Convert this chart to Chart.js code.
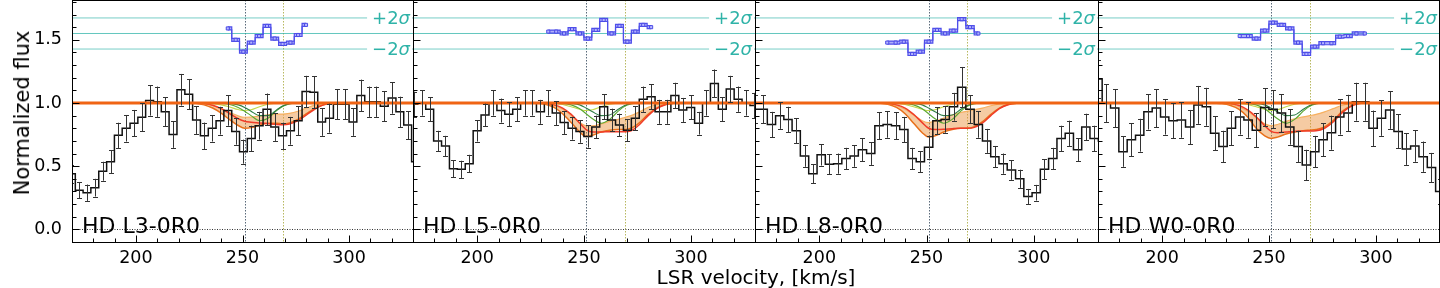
<!DOCTYPE html>
<html><head><meta charset="utf-8">
<script src="https://cdn.jsdelivr.net/npm/chart.js@4.4.1/dist/chart.umd.min.js"></script>
<style>
html,body{margin:0;padding:0;background:#fff;width:1440px;height:288px;overflow:hidden;font-family:'DejaVu Sans',sans-serif}
.pn{position:absolute;top:0;height:288px}
canvas{display:block}
#ylab{position:absolute;left:22px;top:113px;transform:translate(-50%,-50%) rotate(-90deg);font-size:21px;white-space:nowrap;color:#000}
#xlab{position:absolute;left:756px;top:277px;transform:translate(-50%,-50%);font-size:20px;white-space:nowrap;color:#000}
</style></head><body>
<div class="pn" style="left:0px"><canvas id="c0" width="414" height="288"></canvas></div>
<div class="pn" style="left:413px"><canvas id="c1" width="343" height="288"></canvas></div>
<div class="pn" style="left:755px"><canvas id="c2" width="344" height="288"></canvas></div>
<div class="pn" style="left:1098px"><canvas id="c3" width="342" height="288"></canvas></div>
<div id="ylab">Normalized flux</div>
<div id="xlab">LSR velocity, [km/s]</div>
<script>
// ---------- axis / annotation values ----------
const panelNames = ['HD L3-0R0','HD L5-0R0','HD L8-0R0','HD W0-0R0'];
const xTickVals = [200, 250, 300];
const yTickVals = [0.0, 0.5, 1.0, 1.5];
const compVel = [251, 269];
const residCenter = 1.55;
const residSigma2 = 0.123;
const residHalf = 0.012;

// ---------- panel 1 : HD L3-0R0 ----------
const vel1 = [169.7,173.4,177.0,180.7,184.4,188.1,191.7,195.4,199.1,202.7,206.4,210.1,213.7,217.4,221.1,224.8,228.4,232.1,235.8,239.4,243.1,246.8,250.4,254.1,257.8,261.5,265.1,268.8,272.5,276.1,279.8,283.5,287.1,290.8,294.5,298.2,301.8,305.5,309.2,312.8,316.5,320.2,323.8,327.5,331.2];
const flux1 = [0.44,0.31,0.29,0.33,0.46,0.535,0.744,0.80,0.84,0.887,1.02,1.01,0.93,0.75,1.105,1.07,0.865,0.74,0.80,0.86,0.94,0.775,0.615,0.72,0.82,0.95,0.81,0.74,0.78,0.86,1.09,1.085,0.85,0.88,0.99,0.99,0.85,1.06,1.01,1.01,0.975,1.04,0.93,0.825,0.535];
const err1 = [0.07,0.065,0.065,0.07,0.075,0.09,0.1,0.105,0.105,0.11,0.12,0.12,0.115,0.105,0.125,0.12,0.11,0.105,0.105,0.11,0.12,0.105,0.095,0.1,0.11,0.125,0.11,0.105,0.11,0.115,0.125,0.125,0.11,0.115,0.12,0.12,0.11,0.125,0.12,0.12,0.12,0.125,0.12,0.11,0.09];
const resV1 = [243.1,246.8,250.4,254.1,257.8,261.5,265.1,268.8,272.5,276.1,279.8];
const res1 = [1.59,1.50,1.406,1.478,1.53,1.61,1.51,1.467,1.478,1.538,1.618];

// ---------- panel 2 : HD L5-0R0 ----------
const vel2 = [170.4,174.1,177.8,181.5,185.2,188.9,192.6,196.3,200.0,203.7,207.4,211.1,214.8,218.5,222.2,225.9,229.6,233.3,237.0,240.7,244.4,248.1,251.8,255.5,259.2,262.9,266.6,270.3,274.0,277.7,281.4,285.1,288.8,292.5,296.2,299.9,303.6,307.3,311.0,314.7,318.4,322.1,325.8,329.5];
const flux2 = [0.99,1.0,0.95,0.70,0.66,0.48,0.475,0.52,0.78,0.905,1.0,0.94,0.91,0.95,1.0,1.0,0.93,1.0,0.92,0.845,0.80,0.775,0.735,0.81,0.97,0.865,0.825,0.785,0.88,1.03,1.05,0.93,0.93,1.06,0.945,0.965,0.84,1.0,1.155,0.95,1.11,1.03,1.0,0.98];
const err2 = [0.1,0.1,0.095,0.08,0.08,0.068,0.068,0.07,0.085,0.09,0.1,0.095,0.095,0.095,0.1,0.1,0.095,0.1,0.095,0.09,0.09,0.09,0.088,0.09,0.1,0.09,0.09,0.088,0.095,0.1,0.1,0.095,0.095,0.1,0.095,0.095,0.09,0.1,0.11,0.095,0.105,0.1,0.1,0.1];
const resV2 = [233.3,237.0,240.7,244.4,248.1,251.8,255.5,259.2,262.9,266.6,270.3,274.0,277.7,281.4];
const res2 = [1.565,1.565,1.55,1.584,1.55,1.51,1.578,1.657,1.55,1.61,1.485,1.565,1.618,1.60];

// ---------- panel 3 : HD L8-0R0 ----------
const vel3 = [169.9,173.8,177.7,181.5,185.4,189.2,193.1,197.0,200.9,204.7,208.6,212.4,216.3,220.1,224.0,227.8,231.7,235.6,239.4,243.3,247.1,251.0,254.9,258.7,262.6,266.4,270.3,274.2,278.0,281.9,285.7,289.6,293.5,297.3,301.2,305.0,308.9,312.8,316.6,320.5,324.3,328.2,332.1];
const flux3 = [0.95,0.95,0.83,0.90,0.87,0.78,0.58,0.44,0.59,0.515,0.52,0.56,0.58,0.63,0.60,0.82,0.83,0.82,0.79,0.56,0.535,0.65,0.86,0.87,0.97,1.125,0.95,0.83,0.70,0.575,0.52,0.47,0.40,0.26,0.29,0.475,0.56,0.72,0.76,0.63,0.81,0.72,0.70];
const err3 = [0.11,0.11,0.1,0.105,0.1,0.1,0.085,0.075,0.085,0.08,0.08,0.085,0.085,0.09,0.09,0.105,0.105,0.105,0.1,0.085,0.085,0.09,0.105,0.105,0.11,0.16,0.11,0.105,0.095,0.085,0.08,0.078,0.072,0.06,0.062,0.078,0.085,0.1,0.1,0.09,0.105,0.1,0.1];
const resV3 = [231.7,235.6,239.4,243.3,247.1,251.0,254.9,258.7,262.6,266.4,270.3,274.2];
const res3 = [1.478,1.478,1.485,1.388,1.406,1.485,1.578,1.55,1.572,1.663,1.60,1.55];

// ---------- panel 4 : HD W0-0R0 ----------
const vel4 = [170.0,173.9,177.8,181.7,185.6,189.5,193.4,197.3,201.2,205.1,209.0,212.9,216.8,220.7,224.6,228.5,232.4,236.3,240.2,244.1,248.0,251.9,255.8,259.7,263.6,267.5,271.4,275.3,279.2,283.1,287.0,290.9,294.8,298.7,302.6,306.5,310.4,314.3,318.2,322.1,326.0,329.9];
const flux4 = [1.19,1.0,0.96,0.615,0.71,0.745,0.93,0.96,0.89,0.86,0.865,0.81,0.985,0.97,0.76,0.655,0.80,0.89,0.865,0.785,0.965,0.95,0.92,0.81,0.655,0.51,0.615,0.71,0.765,0.89,0.92,1.01,1.01,0.80,0.88,0.945,0.775,0.635,0.66,0.575,0.49,0.30];
const err4 = [0.15,0.15,0.15,0.12,0.13,0.13,0.14,0.15,0.14,0.14,0.14,0.135,0.15,0.15,0.135,0.125,0.135,0.14,0.14,0.135,0.15,0.15,0.15,0.14,0.125,0.12,0.125,0.13,0.135,0.14,0.145,0.15,0.15,0.14,0.14,0.15,0.135,0.125,0.125,0.12,0.115,0.1];
const resV4 = [236.3,240.2,244.1,248.0,251.9,255.8,259.7,263.6,267.5,271.4,275.3,279.2,283.1,287.0,290.9,294.8];
const res4 = [1.53,1.53,1.51,1.573,1.636,1.618,1.59,1.478,1.388,1.446,1.473,1.473,1.525,1.53,1.55,1.55];

// ---------- model profiles (sampled on modelV) ----------
const modelV = [224,228,232,236,240,244,248,251,254,258,262,266,269,272,276,280,284,288,292,296];
const contV = [170, 330];
const contF = [1.0, 1.0];

const bandHi1 = [1.0,0.999,0.992,0.978,0.955,0.925,0.898,0.887,0.888,0.897,0.906,0.912,0.912,0.918,0.935,0.96,0.983,0.996,1.0,1.0];
const bandLo1 = [1.0,0.997,0.985,0.96,0.92,0.868,0.822,0.80,0.805,0.825,0.84,0.84,0.835,0.842,0.87,0.915,0.958,0.986,0.998,1.0];
const red1    = [1.0,1.0,0.995,0.982,0.955,0.915,0.875,0.855,0.848,0.842,0.836,0.83,0.828,0.833,0.86,0.905,0.952,0.985,0.998,1.0];
const lime1   = [1.0,1.0,0.999,0.995,0.985,0.968,0.948,0.94,0.946,0.97,0.99,0.998,1.0,1.0,1.0,1.0,1.0,1.0,1.0,1.0];
const green1  = [1.0,1.0,1.0,1.0,0.997,0.988,0.965,0.935,0.9,0.86,0.88,0.94,0.975,0.993,1.0,1.0,1.0,1.0,1.0,1.0];
const dgreen1 = [1.0,1.0,1.0,1.0,1.0,0.997,0.985,0.965,0.935,0.9,0.9,0.945,0.978,0.995,1.0,1.0,1.0,1.0,1.0,1.0];

const bandHi2 = [1.0,1.0,0.995,0.98,0.95,0.9,0.845,0.82,0.82,0.835,0.855,0.87,0.885,0.9,0.93,0.965,0.988,0.998,1.0,1.0];
const bandLo2 = [1.0,0.998,0.99,0.965,0.915,0.845,0.77,0.735,0.745,0.77,0.785,0.79,0.79,0.8,0.845,0.91,0.96,0.988,0.998,1.0];
const red2    = [1.0,1.0,0.997,0.985,0.96,0.91,0.84,0.79,0.77,0.77,0.773,0.773,0.772,0.78,0.83,0.9,0.955,0.986,0.998,1.0];
const lime2   = [1.0,1.0,1.0,0.997,0.988,0.97,0.95,0.94,0.946,0.97,0.99,0.998,1.0,1.0,1.0,1.0,1.0,1.0,1.0,1.0];
const green2  = [1.0,1.0,1.0,1.0,0.997,0.985,0.955,0.915,0.875,0.84,0.87,0.935,0.975,0.993,1.0,1.0,1.0,1.0,1.0,1.0];
const dgreen2 = [1.0,1.0,1.0,1.0,1.0,0.996,0.985,0.96,0.93,0.9,0.905,0.95,0.98,0.996,1.0,1.0,1.0,1.0,1.0,1.0];

const bandHi3 = [1.0,1.0,0.995,0.98,0.95,0.905,0.86,0.845,0.855,0.88,0.905,0.925,0.935,0.945,0.96,0.978,0.992,0.999,1.0,1.0];
const bandLo3 = [1.0,0.998,0.99,0.965,0.915,0.84,0.765,0.73,0.74,0.77,0.79,0.8,0.8,0.81,0.85,0.91,0.96,0.988,0.998,1.0];
const red3    = [1.0,1.0,0.997,0.985,0.96,0.91,0.845,0.8,0.79,0.792,0.797,0.8,0.8,0.805,0.84,0.9,0.955,0.986,0.998,1.0];
const lime3   = [1.0,1.0,1.0,0.997,0.988,0.97,0.95,0.94,0.946,0.97,0.99,0.998,1.0,1.0,1.0,1.0,1.0,1.0,1.0,1.0];
const green3  = [1.0,1.0,1.0,1.0,0.997,0.985,0.955,0.915,0.875,0.84,0.87,0.935,0.975,0.993,1.0,1.0,1.0,1.0,1.0,1.0];
const dgreen3 = [1.0,1.0,1.0,1.0,1.0,0.996,0.985,0.96,0.93,0.9,0.905,0.95,0.98,0.996,1.0,1.0,1.0,1.0,1.0,1.0];

const bandHi4 = [1.0,0.998,0.99,0.97,0.935,0.885,0.835,0.82,0.83,0.855,0.875,0.89,0.9,0.91,0.93,0.955,0.98,0.995,1.0,1.0];
const bandLo4 = [1.0,0.995,0.98,0.95,0.89,0.8,0.74,0.72,0.73,0.755,0.77,0.78,0.785,0.79,0.81,0.86,0.93,0.975,0.996,1.0];
const red4    = [1.0,1.0,0.995,0.98,0.945,0.89,0.82,0.775,0.765,0.77,0.775,0.778,0.778,0.78,0.8,0.85,0.92,0.97,0.995,1.0];
const lime4   = [1.0,1.0,1.0,0.997,0.988,0.97,0.95,0.94,0.946,0.97,0.99,0.998,1.0,1.0,1.0,1.0,1.0,1.0,1.0,1.0];
const green4  = [1.0,1.0,1.0,1.0,0.997,0.985,0.955,0.915,0.875,0.84,0.87,0.935,0.975,0.993,1.0,1.0,1.0,1.0,1.0,1.0];
const dgreen4 = [1.0,1.0,1.0,1.0,1.0,0.996,0.985,0.96,0.93,0.9,0.905,0.95,0.98,0.996,1.0,1.0,1.0,1.0,1.0,1.0];

// ---------- build ----------
const panels = [
  {vel:vel1,flux:flux1,err:err1,rv:resV1,r:res1,hi:bandHi1,lo:bandLo1,red:red1,lime:lime1,green:green1,dgreen:dgreen1},
  {vel:vel2,flux:flux2,err:err2,rv:resV2,r:res2,hi:bandHi2,lo:bandLo2,red:red2,lime:lime2,green:green2,dgreen:dgreen2},
  {vel:vel3,flux:flux3,err:err3,rv:resV3,r:res3,hi:bandHi3,lo:bandLo3,red:red3,lime:lime3,green:green3,dgreen:dgreen3},
  {vel:vel4,flux:flux4,err:err4,rv:resV4,r:res4,hi:bandHi4,lo:bandLo4,red:red4,lime:lime4,green:green4,dgreen:dgreen4}
];
const pts = (xs, ys) => xs.map((v,i)=>({x:v, y:ys[i]}));
const FONT = "'DejaVu Sans', sans-serif";
const compColors = ['#5a6a7a', '#b8b860'];
const teal = '#2fb3a8';

function deco(idx, P){
  return {
    id:'deco'+idx,
    beforeDatasetsDraw(chart){
      const {ctx, chartArea:a, scales:{x, y}} = chart;
      ctx.save();
      ctx.beginPath(); ctx.rect(a.left, a.top, a.right-a.left, a.bottom-a.top); ctx.clip();
      compVel.forEach((v,j)=>{
        const px = Math.round(x.getPixelForValue(v)) + 0.5;
        ctx.strokeStyle = compColors[j]; ctx.lineWidth = 1; ctx.setLineDash([1.5,1.5]);
        ctx.beginPath(); ctx.moveTo(px, a.top); ctx.lineTo(px, a.bottom); ctx.stroke();
      });
      const p0 = Math.round(y.getPixelForValue(0)) + 0.5;
      ctx.strokeStyle = '#333'; ctx.setLineDash([1,1.5]);
      ctx.beginPath(); ctx.moveTo(a.left, p0); ctx.lineTo(a.right, p0); ctx.stroke();
      ctx.restore();
    },
    afterDatasetsDraw(chart){
      const {ctx, chartArea:a, scales:{x, y}} = chart;
      ctx.save();
      ctx.beginPath(); ctx.rect(a.left, a.top, a.right-a.left, a.bottom-a.top); ctx.clip();
      ctx.strokeStyle = '#333'; ctx.lineWidth = 1;
      P.vel.forEach((v,i)=>{
        const px = Math.round(x.getPixelForValue(v)) + 0.5;
        const y1 = y.getPixelForValue(P.flux[i] - P.err[i]);
        const y2 = y.getPixelForValue(P.flux[i] + P.err[i]);
        ctx.beginPath(); ctx.moveTo(px, y1); ctx.lineTo(px, y2);
        ctx.moveTo(px-2.5, Math.round(y1)+0.5); ctx.lineTo(px+2.5, Math.round(y1)+0.5);
        ctx.moveTo(px-2.5, Math.round(y2)+0.5); ctx.lineTo(px+2.5, Math.round(y2)+0.5);
        ctx.stroke();
      });
      ctx.restore();
      ctx.save();
      [[residCenter+residSigma2,'+2'],[residCenter-residSigma2,'\u22122']].forEach(([val, t])=>{
        const py = y.getPixelForValue(val);
        ctx.font = '18px ' + FONT;
        const w1 = ctx.measureText(t).width;
        ctx.font = 'italic 18px ' + FONT;
        const w2 = ctx.measureText('\u03c3').width;
        const right = a.right - 3;
        ctx.fillStyle = '#fff';
        ctx.fillRect(right - w1 - w2 - 5, py - 9, w1 + w2 + 7, 18);
        ctx.fillStyle = teal; ctx.textBaseline = 'middle';
        ctx.font = '18px ' + FONT; ctx.textAlign = 'left';
        ctx.fillText(t, right - w1 - w2, py + 1);
        ctx.font = 'italic 18px ' + FONT;
        ctx.fillText('\u03c3', right - w2, py + 1);
      });
      ctx.fillStyle = '#000'; ctx.font = '22px ' + FONT; ctx.textAlign = 'left'; ctx.textBaseline = 'alphabetic';
      ctx.fillText(panelNames[idx], a.left + 10, 233);
      ctx.strokeStyle = '#000'; ctx.lineWidth = 1; ctx.setLineDash([]);
      const L = Math.round(a.left) + 0.5, R = Math.round(a.right) - 0.5 + (idx<3?1:0), T = a.top + 0.5, B = Math.round(a.bottom) + 0.5;
      ctx.strokeRect(L, T, R - L, B - T);
      ctx.beginPath();
      for (let v = 170; v <= 330; v += 10) {
        const px = Math.round(x.getPixelForValue(v)) + 0.5;
        const len = (v % 50 === 0) ? 7 : 4;
        ctx.moveTo(px, B); ctx.lineTo(px, B - len);
      }
      for (let k = -1; k <= 18; k++) {
        const v = k / 10;
        const py = Math.round(y.getPixelForValue(v)) + 0.5;
        const len = (k % 5 === 0) ? 7 : 4;
        ctx.moveTo(L, py); ctx.lineTo(L + len, py);
      }
      ctx.stroke();
      ctx.restore();
    }
  };
}

function makeChart(idx){
  const P = panels[idx];
  const line = (data, color, w, order, extra) => Object.assign({data, borderColor:color, borderWidth:w, pointRadius:0, fill:false, order, cubicInterpolationMode:'monotone'}, extra||{});
  const datasets = [
    line(pts(contV, contF), '#f06414', 3, 0),
    line(pts(P.vel, P.flux), '#111', 1.5, 1, {stepped:'middle', cubicInterpolationMode:'default'}),
    line(pts(modelV, P.red), '#f03c28', 1.5, 2),
    line(pts(modelV, P.dgreen), '#2e7d46', 1.1, 3),
    line(pts(modelV, P.green), '#5aa832', 1.1, 3),
    line(pts(modelV, P.lime), '#c2d64a', 1.1, 3),
    line(pts(modelV, P.hi), '#f7b060', 1.2, 4),
    line(pts(modelV, P.lo), '#e8701a', 1.5, 4, {fill:'-1', backgroundColor:'rgba(232,140,50,0.45)'}),
    line(pts(P.rv, P.r), '#5555ee', 1, 5, {stepped:'middle', cubicInterpolationMode:'default', showLine:false, pointRadius:2.2, pointStyle:'rect', pointBorderColor:'#4a4ae6', pointBackgroundColor:'rgba(180,180,255,0.9)', pointBorderWidth:1}),
    line(pts(P.rv, P.r.map(v=>v+residHalf)), '#4f4fea', 1.2, 6, {stepped:'middle', cubicInterpolationMode:'default'}),
    line(pts(P.rv, P.r.map(v=>v-residHalf)), '#4f4fea', 1.2, 6, {stepped:'middle', cubicInterpolationMode:'default', fill:'-1', backgroundColor:'rgba(110,110,245,0.55)'}),
    line(pts(contV, [residCenter+residSigma2, residCenter+residSigma2]), 'rgba(47,179,168,0.65)', 1, 7),
    line(pts(contV, [residCenter, residCenter]), 'rgba(47,179,168,0.75)', 1, 7),
    line(pts(contV, [residCenter-residSigma2, residCenter-residSigma2]), 'rgba(47,179,168,0.65)', 1, 7)
  ];
  return new Chart(document.getElementById('c'+idx), {
    type:'line',
    data:{datasets},
    options:{
      responsive:false, animation:false, devicePixelRatio:1,
      layout:{autoPadding:false, padding:{left:0, right:(idx<3?1:0), top:0, bottom:0}},
      plugins:{legend:{display:false}, tooltip:{enabled:false}},
      elements:{line:{tension:0}},
      scales:{
        x:{type:'linear', min:170, max:330,
           grid:{display:false, drawTicks:false}, border:{display:false},
           afterBuildTicks:s=>{ s.ticks = xTickVals.map(v=>({value:v})); },
           afterFit:s=>{ s.height = 46; s.paddingLeft = 0; s.paddingRight = 0; },
           ticks:{font:{family:FONT, size:17.5}, color:'#000', padding:6, maxRotation:0, autoSkip:false, callback:v=>String(v)}},
        y:{type:'linear', min:-0.1, max:1.815, display: idx===0,
           grid:{display:false, drawTicks:false}, border:{display:false},
           afterBuildTicks:s=>{ s.ticks = yTickVals.map(v=>({value:v})); },
           afterFit:s=>{ s.width = (idx===0 ? 72 : 0); s.paddingTop = 0; s.paddingBottom = 0; },
           ticks:{font:{family:FONT, size:17.5}, color:'#000', padding:10, callback:v=>Number(v).toFixed(1)}}
      }
    },
    plugins:[deco(idx, P)]
  });
}
[0,1,2,3].forEach(makeChart);
</script>
</body></html>
